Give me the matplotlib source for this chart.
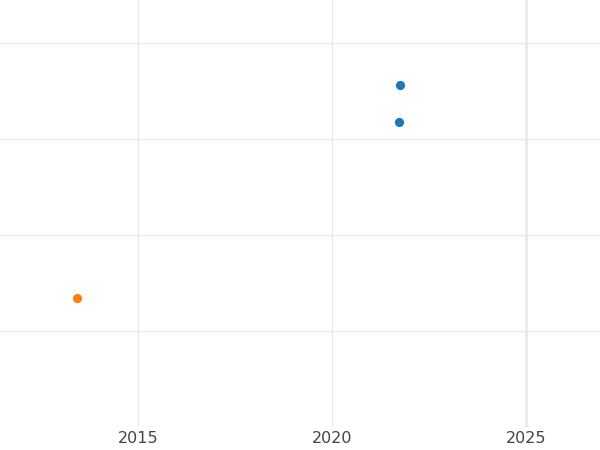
import matplotlib
matplotlib.use("Agg")
import matplotlib.pyplot as plt

# values
blue_x = [2021.755, 2021.72]
blue_y = [3.56, 3.175]
orange_x = [2013.44]
orange_y = [1.34]

x_ticks = [2015, 2020, 2025]
y_grid = [1, 2, 3, 4]

fig = plt.figure(figsize=(6, 4.5), dpi=100)
ax = fig.add_axes([0, 0.051, 1, 0.949])

ax.scatter(blue_x, blue_y, s=44, color="#1f77b4", zorder=3, linewidths=0)
ax.scatter(orange_x, orange_y, s=44, color="#ff7f0e", zorder=3, linewidths=0)

ax.set_xlim(2011.45, 2026.91)
ax.set_ylim(0, 4.448)
ax.set_xticks(x_ticks)
ax.set_xticklabels([str(t) for t in x_ticks])
ax.set_yticks(y_grid)
ax.set_yticklabels([])

ax.grid(True, color="#ebebeb", linewidth=1)
ax.axvline(2025, color="#ebebeb", linewidth=2, zorder=1)
for s in ax.spines.values():
    s.set_visible(False)
ax.tick_params(length=0, pad=3, labelsize=11.5, labelcolor="#444444")

fig.savefig("out.png", dpi=100)
